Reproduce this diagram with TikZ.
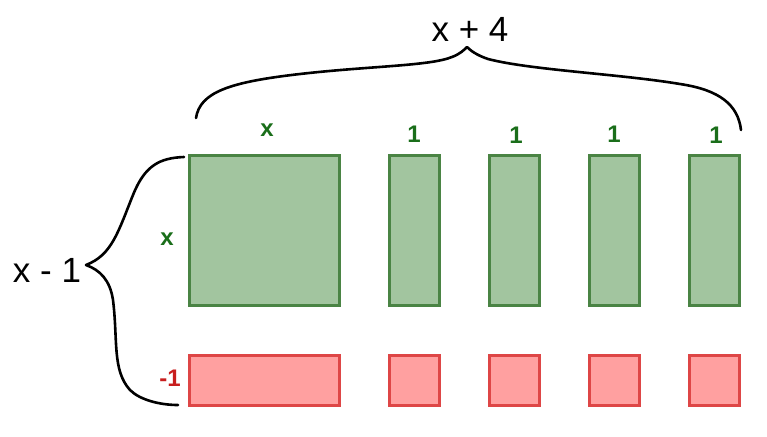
\documentclass[tikz,border=0pt]{standalone}
\usepackage{fontspec}
\setmainfont{Liberation Sans}
\definecolor{gfill}{HTML}{A2C59F}
\definecolor{gline}{HTML}{4A8444}
\definecolor{rfill}{HTML}{FFA0A0}
\definecolor{rline}{HTML}{DE4646}
\definecolor{gtext}{HTML}{1A6E1A}
\definecolor{rtext}{HTML}{C81E1E}
\tikzset{
  gbox/.style={draw=gline,fill=gfill,line width=3pt},
  rbox/.style={draw=rline,fill=rfill,line width=3pt},
  glabel/.style={text=gtext,font=\fontsize{24}{24}\selectfont\bfseries,inner sep=0pt},
  rlabel/.style={text=rtext,font=\fontsize{24}{24}\selectfont\bfseries,inner sep=0pt},
  biglabel/.style={font=\fontsize{35}{35}\selectfont,inner sep=0pt},
  bracepath/.style={draw=black,line width=2.6pt,line cap=round,line join=round}
}
\begin{document}
\begin{tikzpicture}[x=1pt,y=-1pt]
\useasboundingbox (0,0) rectangle (767,436);
% green tiles
\draw[gbox] (189,155) rectangle (339,305);
\foreach \i/\xx in {1/389,2/489,3/589,4/689}{
  \draw[gbox] (\xx,155) rectangle ++(50,150);
  \draw[rbox] (\xx,355) rectangle ++(50,50);
}
\draw[rbox] (189,355) rectangle (339,405);
% labels
\node[glabel] (lx) at (267,130) {x};
\node[glabel] (l1) at (414,134) {1};
\node[glabel] (l2) at (516,135) {1};
\node[glabel] (l3) at (614,134) {1};
\node[glabel] (l4) at (716,135) {1};
\node[glabel] (lxl) at (167,239) {x};
\node[rlabel] (lm) at (170,378) {-1};
\node[biglabel] (top) at (470,29) {x + 4};
\node[biglabel] (left) at (47,270) {x - 1};
% top brace
\draw[bracepath] (196,118) .. controls (200,92) and (230,82) .. (300,74)
  .. controls (370,66) and (430,66) .. (452,57)
  .. controls (460,54) and (464,50) .. (467,47)
  .. controls (470,50) and (476,55) .. (488,59)
  .. controls (530,70) and (620,74) .. (680,84)
  .. controls (720,90) and (738,105) .. (741,130);
% left brace
\draw[bracepath] (184,157) .. controls (160,158) and (145,165) .. (133,195)
  .. controls (118,232) and (112,255) .. (86,265)
  .. controls (100,270) and (110,280) .. (113,300)
  .. controls (118,340) and (112,370) .. (130,390)
  .. controls (140,400) and (160,405) .. (178,405);
\end{tikzpicture}
\end{document}
